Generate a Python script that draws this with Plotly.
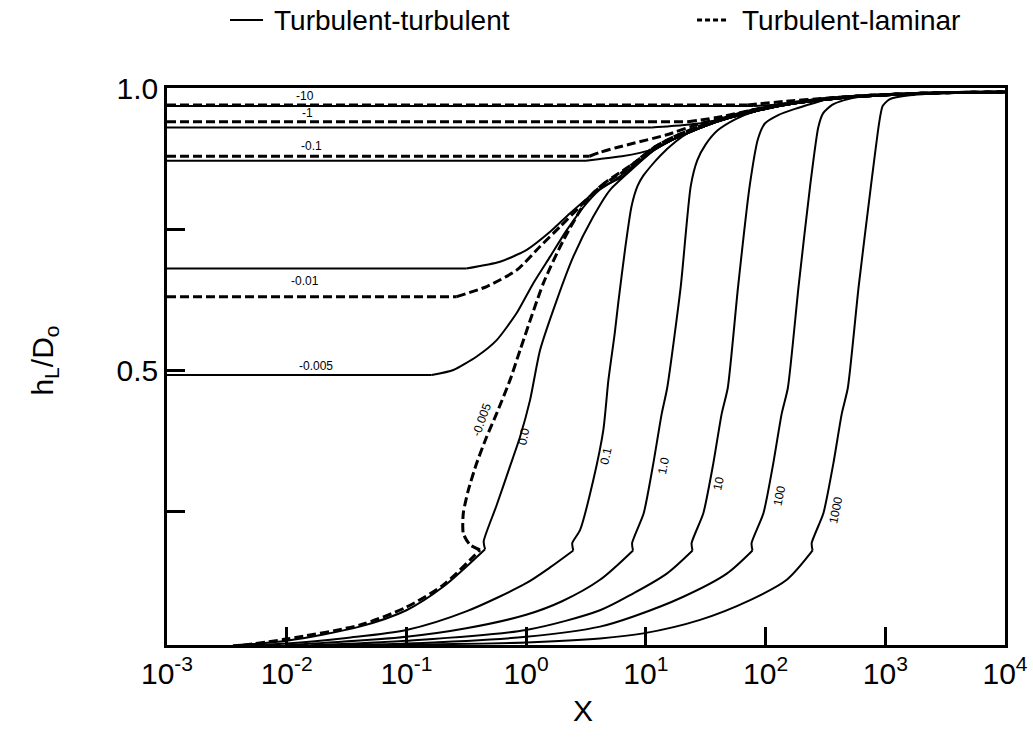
import math
import plotly.graph_objects as go

# ---------------- data ----------------
# common upper envelope (solid, turbulent-turbulent)
env_x = [11.75, 15.85, 22.39, 31.62, 50.12, 79.43, 158.5, 316.2, 631.0, 1585, 3981, 10000]
env_y = [0.890, 0.906, 0.920, 0.933, 0.947, 0.958, 0.971, 0.979, 0.985, 0.989, 0.992, 0.993]
# common upper envelope (dashed, turbulent-laminar) - lies slightly above
envd_x = [11.75, 15.85, 22.39, 31.62, 50.12, 79.43, 158.5, 316.2, 631.0, 1585, 3981, 10000]
envd_y = [0.895, 0.910, 0.924, 0.936, 0.950, 0.961, 0.973, 0.981, 0.986, 0.990, 0.992, 0.993]

# turbulent-turbulent curves (solid)
tt_0_x = [0.00355, 0.0100, 0.0407, 0.100, 0.204, 0.454, 0.442, 0.562, 0.733, 0.891, 1.079, 1.306,
          1.803, 2.477, 3.639, 5.012, 7.870]
tt_0_y = [0.012, 0.020, 0.045, 0.074, 0.116, 0.182, 0.196, 0.258, 0.329, 0.382, 0.447, 0.535,
          0.624, 0.701, 0.772, 0.819, 0.858]

tt_01_x = [0.00501, 0.0100, 0.0316, 0.100, 0.316, 1.0, 1.585, 2.477, 2.427, 2.818, 3.639, 4.416,
           4.864, 5.495, 5.888, 6.761, 7.586, 8.511, 9.550, 13.18, 17.78, 22.39]
tt_01_y = [0.012, 0.015, 0.025, 0.039, 0.072, 0.122, 0.150, 0.180, 0.193, 0.216, 0.305, 0.394,
           0.482, 0.565, 0.620, 0.720, 0.790, 0.826, 0.845, 0.880, 0.905, 0.920]

tt_1_x = [0.0100, 0.100, 0.316, 1.0, 1.995, 4.140, 7.816, 7.674, 9.594, 11.56, 13.58, 15.07,
          19.54, 23.71, 26.92, 31.62, 39.81, 56.23]
tt_1_y = [0.012, 0.027, 0.042, 0.066, 0.090, 0.128, 0.180, 0.193, 0.246, 0.335, 0.423, 0.468,
          0.647, 0.826, 0.872, 0.900, 0.925, 0.945]

tt_10_x = [0.01585, 0.100, 1.0, 4.140, 7.870, 14.96, 24.55, 24.10, 30.20, 36.64, 43.05, 48.31,
           58.88, 73.62, 86.50, 98.63, 127.6, 176.2, 251.2]
tt_10_y = [0.012, 0.020, 0.039, 0.074, 0.104, 0.139, 0.180, 0.193, 0.246, 0.335, 0.423, 0.468,
           0.647, 0.826, 0.910, 0.937, 0.952, 0.963, 0.973]

tt_100_x = [0.02512, 0.100, 1.0, 4.140, 7.870, 20.56, 47.42, 77.80, 76.38, 95.94, 116.1, 136.5,
            153.5, 188.4, 235.5, 275.4, 302.0, 359.7, 446.7]
tt_100_y = [0.012, 0.015, 0.027, 0.045, 0.063, 0.098, 0.139, 0.180, 0.193, 0.246, 0.335, 0.423,
            0.468, 0.647, 0.826, 0.930, 0.955, 0.970, 0.978]

tt_1000_x = [0.02512, 0.100, 1.0, 4.140, 9.528, 28.38, 74.30, 150.3, 247.2, 242.7, 304.1, 368.9,
             433.5, 486.4, 598.4, 758.6, 891.3, 950.6, 1084, 1600]
tt_1000_y = [0.012, 0.013, 0.017, 0.024, 0.033, 0.057, 0.092, 0.128, 0.180, 0.193, 0.246, 0.335,
             0.423, 0.468, 0.647, 0.826, 0.940, 0.968, 0.980, 0.987]

tt_m0005_x = [0.001, 0.1626, 0.2466, 0.3864, 0.5675, 0.8337, 1.148, 1.585, 2.183, 3.206, 4.416,
              6.310, 7.870]
tt_m0005_y = [0.491, 0.491, 0.500, 0.524, 0.553, 0.601, 0.654, 0.701, 0.748, 0.796, 0.825,
              0.842, 0.860]

tt_m001_x = [0.001, 0.3162, 0.6053, 1.012, 1.585, 2.328, 3.639, 5.534, 7.870]
tt_m001_y = [0.680, 0.680, 0.692, 0.713, 0.745, 0.778, 0.813, 0.837, 0.862]

tt_m01_x = [0.001, 3.162, 4.140, 6.310, 8.913, 11.75]
tt_m01_y = [0.871, 0.871, 0.874, 0.879, 0.885, 0.892]

tt_m1_x = [0.001, 11.22, 19.95, 31.62, 50.12]
tt_m1_y = [0.930, 0.930, 0.934, 0.939, 0.948]

tt_m10_x = [0.001, 79.43, 158.5]
tt_m10_y = [0.968, 0.968, 0.972]

# turbulent-laminar curves (dashed)
tl_m0005_x = [0.004315, 0.00993, 0.04093, 0.09863, 0.2032, 0.3396, 0.4121, 0.3396, 0.2985, 0.2985,
              0.3289, 0.3864, 0.4688, 0.5675, 0.7328, 0.8892, 1.393, 2.046, 3.206, 4.560, 7.870]
tl_m0005_y = [0.012, 0.023, 0.048, 0.079, 0.119, 0.163, 0.181, 0.190, 0.210, 0.246,
              0.287, 0.335, 0.382, 0.423, 0.482, 0.535, 0.654, 0.730, 0.801, 0.832, 0.866]

tl_m001_x = [0.001, 0.2630, 0.4688, 0.8337, 1.306, 1.919, 2.818, 4.140, 6.310, 7.870]
tl_m001_y = [0.630, 0.630, 0.648, 0.677, 0.719, 0.754, 0.790, 0.825, 0.850, 0.866]

tl_m01_x = [0.001, 3.388, 4.140, 5.623, 7.870, 14.96, 28.38, 50.12]
tl_m01_y = [0.879, 0.879, 0.886, 0.894, 0.902, 0.917, 0.937, 0.950]

tl_m1_x = [0.001, 22.39, 42.46, 81.28, 158.5]
tl_m1_y = [0.940, 0.940, 0.949, 0.962, 0.973]

tl_m10_x = [0.001, 70.79, 141.3, 316.2, 631.0]
tl_m10_y = [0.970, 0.970, 0.976, 0.982, 0.986]

# curve labels
flat_labels = ["-10", "-1", "-0.1", "-0.01", "-0.005"]
flat_label_x = [0.0142, 0.0148, 0.0162, 0.0142, 0.0174]
flat_label_y = [0.985, 0.955, 0.898, 0.658, 0.507]

rot_labels = ["-0.005", "0.0", "0.1", "1.0", "10", "100", "1000"]
rot_label_x = [0.425, 0.948, 4.62, 14.0, 40.4, 129.7, 385.5]
rot_label_y = [0.411, 0.382, 0.348, 0.330, 0.300, 0.277, 0.252]

x_tick_vals = [0.001, 0.01, 0.1, 1, 10, 100, 1000, 10000]
x_tick_text = ["10<sup>-3</sup>", "10<sup>-2</sup>", "10<sup>-1</sup>", "10<sup>0</sup>",
               "10<sup>1</sup>", "10<sup>2</sup>", "10<sup>3</sup>", "10<sup>4</sup>"]
y_tick_vals = [0.5, 1.0]
y_tick_text = ["0.5", "1.0"]
y_minor_vals = [0.25, 0.75]

legend_labels = ["Turbulent-turbulent", "Turbulent-laminar"]

# ---------------- figure ----------------
SANS = "Liberation Sans, Arial, sans-serif"


def with_tail(xs, ys, tx, ty):
    last = xs[-1]
    ox, oy = list(xs), list(ys)
    for a, b in zip(tx, ty):
        if a > last * 1.05:
            ox.append(a)
            oy.append(b)
    return ox, oy


fig = go.Figure()

# (curve, index where the first part ends, whether the first part is a straight flat line)
solid_curves = [((tt_0_x, tt_0_y), 5, False), ((tt_01_x, tt_01_y), 7, False),
                ((tt_1_x, tt_1_y), 6, False), ((tt_10_x, tt_10_y), 6, False),
                ((tt_100_x, tt_100_y), 7, False), ((tt_1000_x, tt_1000_y), 8, False),
                ((tt_m0005_x, tt_m0005_y), 1, True), ((tt_m001_x, tt_m001_y), 1, True),
                ((tt_m01_x, tt_m01_y), 1, True), ((tt_m1_x, tt_m1_y), 1, True),
                ((tt_m10_x, tt_m10_y), 1, True)]
dashed_curves = [((tl_m0005_x, tl_m0005_y), 6, False), ((tl_m001_x, tl_m001_y), 1, True),
                 ((tl_m01_x, tl_m01_y), 1, True), ((tl_m1_x, tl_m1_y), 1, True),
                 ((tl_m10_x, tl_m10_y), 1, True)]

solid_line = dict(color="black", width=2)
dashed_line = dict(color="black", width=3, dash="9px,4px")


def add_curve(xs, ys, k, flat, tail_x, tail_y, line):
    cx, cy = with_tail(xs, ys, tail_x, tail_y)
    first_shape = "linear" if flat else "spline"
    fig.add_trace(go.Scatter(x=cx[:k + 1], y=cy[:k + 1], mode="lines", showlegend=False,
                             line=dict(line, shape=first_shape, smoothing=0.8),
                             hoverinfo="skip"))
    fig.add_trace(go.Scatter(x=cx[k:], y=cy[k:], mode="lines", showlegend=False,
                             line=dict(line, shape="spline", smoothing=0.6),
                             hoverinfo="skip"))


for (xs, ys), k, flat in solid_curves:
    add_curve(xs, ys, k, flat, env_x, env_y, solid_line)
for (xs, ys), k, flat in dashed_curves:
    add_curve(xs, ys, k, flat, envd_x, envd_y, dashed_line)

annotations = []
for t, x, y in zip(flat_labels, flat_label_x, flat_label_y):
    annotations.append(dict(x=math.log10(x), y=y, xref="x", yref="y", text=t, showarrow=False,
                            font=dict(family=SANS, size=12, color="black")))
for i, (t, x, y) in enumerate(zip(rot_labels, rot_label_x, rot_label_y)):
    annotations.append(dict(x=math.log10(x), y=y, xref="x", yref="y", text=t, showarrow=False,
                            textangle=-70 if i == 0 else -78,
                            font=dict(family=SANS, size=12, color="black")))

# axis titles
annotations.append(dict(x=-0.146, y=0.51, xref="paper", yref="paper", showarrow=False,
                        xanchor="center", yanchor="middle",
                        text="h<sub>L</sub>/D<sub>o</sub>", textangle=-90,
                        font=dict(family=SANS, size=30, color="black")))
annotations.append(dict(x=0.4964, y=-0.117, xref="paper", yref="paper", showarrow=False,
                        xanchor="center", yanchor="middle",
                        text="X", font=dict(family=SANS, size=30, color="black")))

# manual legend
annotations.append(dict(x=0.1253, y=1.122, xref="paper", yref="paper", showarrow=False,
                        xanchor="left", yanchor="middle", text=legend_labels[0],
                        font=dict(family=SANS, size=28, color="black")))
annotations.append(dict(x=0.6838, y=1.122, xref="paper", yref="paper", showarrow=False,
                        xanchor="left", yanchor="middle", text=legend_labels[1],
                        font=dict(family=SANS, size=28, color="black")))
shapes = [
    dict(type="line", xref="paper", yref="paper", x0=0.0752, x1=0.1146, y0=1.1221, y1=1.1221,
         line=dict(color="black", width=2)),
    dict(type="line", xref="paper", yref="paper", x0=0.6325, x1=0.6695, y0=1.1221, y1=1.1221,
         line=dict(color="black", width=3, dash="5px,3px")),
]

fig.update_layout(
    width=1033, height=742,
    margin=dict(l=167, r=28, t=88, b=97, autoexpand=False),
    paper_bgcolor="white", plot_bgcolor="white",
    annotations=annotations, shapes=shapes,
    showlegend=False,
)
fig.update_xaxes(type="log", range=[-3, 4], tickvals=x_tick_vals, ticktext=x_tick_text,
                 showline=True, linecolor="black", linewidth=2.5, mirror=True,
                 ticks="inside", ticklen=18, tickwidth=2.5, tickcolor="black",
                 showgrid=False, zeroline=False, automargin=False,
                 tickfont=dict(family=SANS, size=30, color="black"))
fig.update_yaxes(range=[0.0124, 1.0], tickvals=y_tick_vals, ticktext=y_tick_text,
                 showline=True, linecolor="black", linewidth=2.5, mirror=True,
                 ticks="inside", ticklen=18, tickwidth=2.5, tickcolor="black",
                 minor=dict(tickvals=y_minor_vals, ticks="inside", ticklen=18, tickwidth=2.5,
                            tickcolor="black", showgrid=False),
                 showgrid=False, zeroline=False, automargin=False,
                 tickfont=dict(family=SANS, size=30, color="black"))

fig.write_html("out.html")
